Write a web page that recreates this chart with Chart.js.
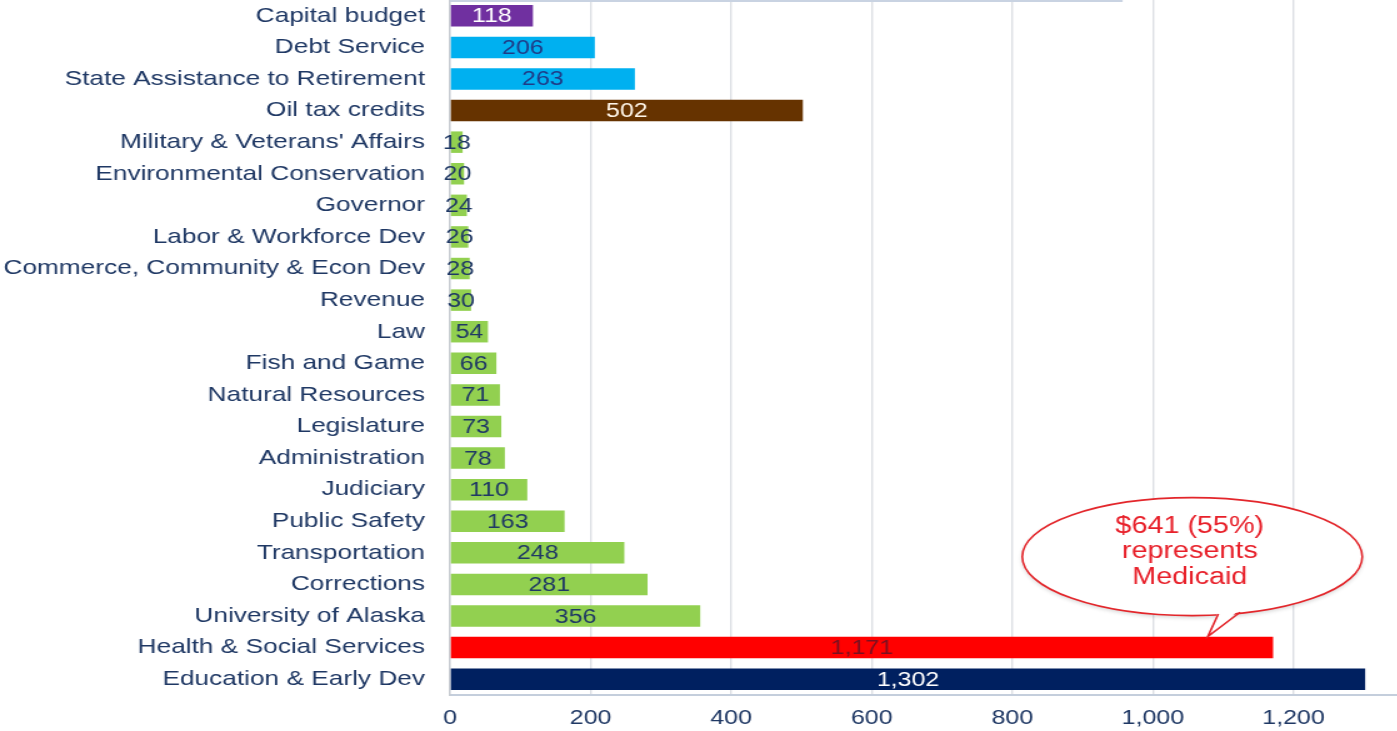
<!DOCTYPE html>
<html>
<head>
<meta charset="utf-8">
<title>Alaska general fund spending by agency</title>
<script src="https://cdn.jsdelivr.net/npm/chart.js@4.4.1/dist/chart.umd.min.js"></script>
<style>
  html, body { margin: 0; padding: 0; background: #ffffff; overflow: hidden; }
  #wrap { width: 1118px; height: 731px; transform: scaleX(1.25); transform-origin: 0 0; }
</style>
</head>
<body>
<div id="wrap"><canvas id="c"></canvas></div>
<script>
// Agencies, listed top to bottom
const agencies = [
  'Capital budget', 'Debt Service', 'State Assistance to Retirement', 'Oil tax credits',
  "Military & Veterans' Affairs", 'Environmental Conservation', 'Governor',
  'Labor & Workforce Dev', 'Commerce, Community & Econ Dev', 'Revenue', 'Law',
  'Fish and Game', 'Natural Resources', 'Legislature', 'Administration', 'Judiciary',
  'Public Safety', 'Transportation', 'Corrections', 'University of Alaska',
  'Health & Social Services', 'Education & Early Dev'
];
// Spending, $ millions
const spending = [118, 206, 263, 502, 18, 20, 24, 26, 28, 30, 54, 66, 71, 73, 78, 110, 163, 248, 281, 356, 1171, 1302];
// Axis ticks
const xTicks = [0, 200, 400, 600, 800, 1000, 1200];
// Callout text for the Health & Social Services bar
const calloutLines = ['$641 (55%)', 'represents', 'Medicaid'];

const PURPLE = '#7030A0', CYAN = '#00B0F0', BROWN = '#663300', GREEN = '#92D050', RED = '#FF0000', NAVY = '#002060';
const barColors = [PURPLE, CYAN, CYAN, BROWN].concat(Array(16).fill(GREEN), [RED, NAVY]);
const valueColors = ['#ffffff', '#1F3A86', '#1F3A86', '#FFF6E8'].concat(Array(16).fill('#1F3864'), ['#7A1020', '#ffffff']);
const TEXT = '#1F3864';
const FONT = "'Liberation Sans', Arial, sans-serif";

// Labels drawn in the middle of each bar
const barValueLabels = {
  id: 'barValueLabels',
  afterDatasetsDraw(chart) {
    const ctx = chart.ctx;
    const meta = chart.getDatasetMeta(0);
    ctx.save();
    ctx.font = '20px ' + FONT;
    ctx.textAlign = 'center';
    ctx.textBaseline = 'middle';
    meta.data.forEach((bar, i) => {
      ctx.fillStyle = valueColors[i];
      ctx.fillText(spending[i].toLocaleString('en-US'), (bar.x + bar.base) / 2, bar.y + 1);
    });
    ctx.restore();
  }
};

// Thin frame line along the top of the plot
const topRule = {
  id: 'topRule',
  beforeDatasetsDraw(chart) {
    const { ctx, chartArea, scales } = chart;
    ctx.save();
    ctx.strokeStyle = '#C9D3E2';
    ctx.lineWidth = 2;
    ctx.beginPath();
    ctx.moveTo(chartArea.left, chartArea.top + 1);
    ctx.lineTo(scales.x.getPixelForValue(957), chartArea.top + 1);
    ctx.stroke();
    ctx.restore();
  }
};

// Speech bubble pointing at the Health & Social Services bar
const medicaidCallout = {
  id: 'medicaidCallout',
  afterDraw(chart) {
    const { ctx, scales } = chart;
    const x = scales.x, y = scales.y;
    const hIdx = agencies.indexOf('Health & Social Services');
    const barY = y.getPixelForValue(hIdx);
    const step = y.getPixelForValue(1) - y.getPixelForValue(0);
    const cx = x.getPixelForValue(1056);
    const cy = barY - 2.88 * step;
    const rx = 136, ry = 59;
    const tipX = x.getPixelForValue(1078), tipY = barY - 11;
    const bx1 = x.getPixelForValue(1093), bx2 = x.getPixelForValue(1124);
    const onEllipse = bx => cy + ry * Math.sqrt(Math.max(0, 1 - Math.pow((bx - cx) / rx, 2)));
    const by1 = onEllipse(bx1) - 1, by2 = onEllipse(bx2) - 1;

    ctx.save();
    ctx.strokeStyle = '#E3262B';
    ctx.lineWidth = 1.6;
    ctx.shadowColor = 'rgba(0,0,0,0.18)';
    ctx.shadowBlur = 4;
    ctx.shadowOffsetY = 2;
    ctx.beginPath();
    ctx.ellipse(cx, cy, rx, ry, 0, 0, Math.PI * 2);
    ctx.fillStyle = '#ffffff';
    ctx.fill();
    ctx.shadowColor = 'transparent';
    ctx.stroke();

    // tail
    ctx.beginPath();
    ctx.moveTo(bx1, by1 - 3);
    ctx.lineTo(tipX, tipY);
    ctx.lineTo(bx2, by2 - 3);
    ctx.closePath();
    ctx.fill();
    ctx.beginPath();
    ctx.moveTo(bx1, by1);
    ctx.lineTo(tipX, tipY);
    ctx.lineTo(bx2, by2);
    ctx.stroke();

    ctx.fillStyle = '#E8202A';
    ctx.font = '23px ' + FONT;
    ctx.textAlign = 'center';
    ctx.textBaseline = 'middle';
    const lh = 25.5;
    calloutLines.forEach((t, i) => {
      ctx.fillText(t, cx - 2, cy - 30 + i * lh);
    });
    ctx.restore();
  }
};

new Chart(document.getElementById('c'), {
  type: 'bar',
  data: {
    labels: agencies,
    datasets: [{
      data: spending,
      backgroundColor: barColors,
      borderWidth: 0,
      categoryPercentage: 1,
      barPercentage: 0.68
    }]
  },
  options: {
    indexAxis: 'y',
    responsive: true,
    maintainAspectRatio: false,
    animation: false,
    layout: { padding: 0 },
    plugins: { legend: { display: false }, tooltip: { enabled: false }, title: { display: false } },
    scales: {
      x: {
        min: 0,
        max: 1348,
        afterBuildTicks(scale) {
          scale.ticks = xTicks.map(v => ({ value: v }));
        },
        afterFit(scale) { scale.height = 36; },
        grid: { color: '#DCDFE4', lineWidth: 1.4, drawTicks: false },
        border: { display: true, color: '#C4CEDC', width: 2 },
        ticks: {
          color: TEXT,
          padding: 11,
          font: { family: FONT, size: 20 },
          callback: v => Number(v).toLocaleString('en-US')
        }
      },
      y: {
        afterFit(scale) {
          scale.width = 360;
          // let the bars run to the very top and bottom of the plot
          scale.paddingTop = 0;
          scale.paddingBottom = 0;
        },
        grid: { display: false, drawTicks: false },
        border: { display: true, color: '#C8CCD2', width: 1.4 },
        ticks: {
          color: TEXT,
          padding: 20,
          autoSkip: false,
          font: { family: FONT, size: 21 }
        }
      }
    }
  },
  plugins: [topRule, barValueLabels, medicaidCallout]
});
</script>
</body>
</html>
